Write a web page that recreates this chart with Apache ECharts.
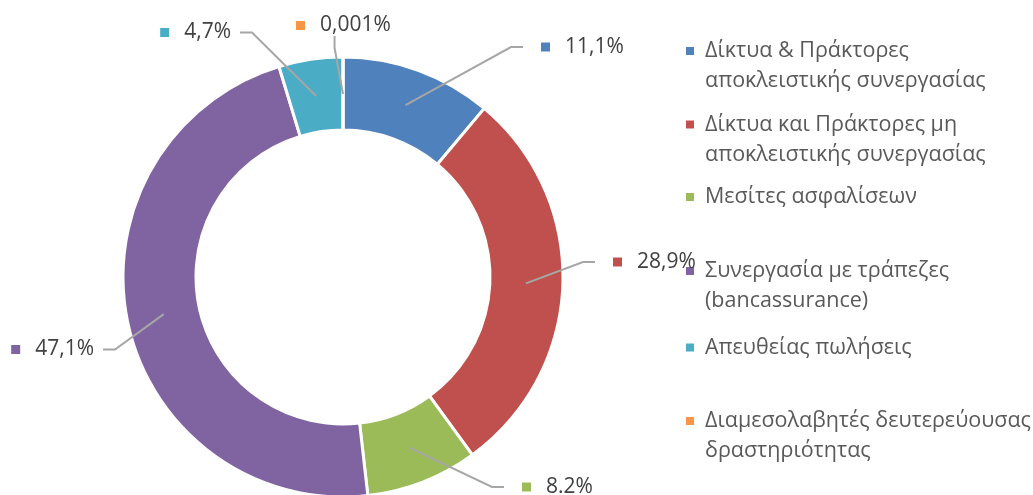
<!DOCTYPE html>
<html><head><meta charset="utf-8">
<script src="https://cdn.jsdelivr.net/npm/echarts@6/dist/echarts.min.js"></script>
<style>html,body{margin:0;padding:0;background:#fff}#c{width:1033px;height:495px}</style>
</head><body><div id="c"></div>
<script>
// ---- data ----
const categories = [
  'Δίκτυα & Πράκτορες\nαποκλειστικής συνεργασίας',
  'Δίκτυα και Πράκτορες μη\nαποκλειστικής συνεργασίας',
  'Μεσίτες ασφαλίσεων',
  'Συνεργασία με τράπεζες\n(bancassurance)',
  'Απευθείας πωλήσεις',
  'Διαμεσολαβητές δευτερεύουσας\nδραστηριότητας'
];
const shares = [11.1, 28.9, 8.2, 47.1, 4.7, 0.001];
const shareLabels = ['11,1%', '28,9%', '8.2%', '47,1%', '4,7%', '0,001%'];

// ---- styles / layout ----
const colors = ['#4F81BD', '#C0504D', '#9BBB59', '#8064A2', '#4BACC6', '#F79646'];
const FONT = '"Open Sans", "Noto Sans", sans-serif';
const CENTER = [343, 277];
const labelPlace = [ // x, y, align
  [523, 47, 'left'], [595, 262, 'left'], [504, 487, 'left'],
  [103, 349.5, 'right'], [240, 32.5, 'right'], [278, 25.5, 'left']
];
const legendCenters = [51, 124.5, 197, 271, 347.5, 421];
const LH = 30;

const rich = {
  v: { fontFamily: FONT, fontSize: 21, color: '#404040', padding: [0, 0, 0, 15], lineHeight: 24 },
  sl: { width: 18, height: 9, fontSize: 1 },
  sr: { width: 9, height: 9, fontSize: 1 }
};
colors.forEach((c, i) => { rich['m' + i] = { width: 9, height: 9, backgroundColor: c }; });

const chart = echarts.init(document.getElementById('c'), null, { renderer: 'canvas' });
chart.setOption({
  animation: false,
  backgroundColor: '#fff',
  legend: categories.map((name, i) => {
    const n = name.split('\n').length;
    return {
      data: [name], left: 686, top: legendCenters[i] - (LH / 2) * (2 * n - 1),
      orient: 'vertical', padding: 0, icon: 'rect', itemWidth: 8, itemHeight: 8,
      itemStyle: { borderWidth: 0 }, selectedMode: false,
      formatter: nm => '\n'.repeat(n - 1) + nm,
      textStyle: { fontFamily: FONT, fontSize: 21.5, color: '#595959', lineHeight: LH, padding: [0, 0, 0, 6] }
    };
  }),
  series: [
    {
      type: 'pie', radius: [147, 220], center: CENTER, startAngle: 90, clockwise: true,
      silent: true, avoidLabelOverlap: false, z: 2,
      itemStyle: { borderColor: '#fff', borderWidth: 3 },
      label: { show: false }, labelLine: { show: false },
      data: categories.map((n, i) => ({ name: n, value: shares[i], itemStyle: { color: colors[i] } }))
    },
    {
      type: 'pie', radius: [0, 183], center: CENTER, startAngle: 90, clockwise: true,
      silent: true, avoidLabelOverlap: false, z: 5,
      itemStyle: { color: 'rgba(0,0,0,0)', borderWidth: 0 },
      label: {
        show: true, position: 'outside',
        formatter: p => `{sl| }{m${p.dataIndex}|}{v|${shareLabels[p.dataIndex]}}{sr| }`,
        rich: rich
      },
      labelLine: { show: true, length: 10, length2: 12, smooth: false, lineStyle: { color: '#A6A6A6', width: 2 } },
      labelLayout: p => {
        const L = labelPlace[p.dataIndex];
        return { x: L[0], y: L[1], align: L[2], verticalAlign: 'middle' };
      },
      data: categories.map((n, i) => ({ name: n, value: shares[i] }))
    }
  ]
});
</script></body></html>
